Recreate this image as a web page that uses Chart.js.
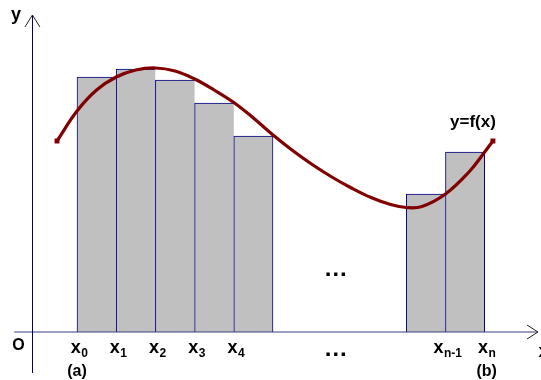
<!DOCTYPE html>
<html>
<head>
<meta charset="utf-8">
<script src="https://cdn.jsdelivr.net/npm/chart.js@4/dist/chart.umd.min.js"></script>
<style>
  html, body { margin: 0; padding: 0; background: #fff; }
  #wrap { width: 541px; height: 380px; position: relative; }
</style>
</head>
<body>
<div id="wrap"><canvas id="riemannChart"></canvas></div>
<script>
// puntos de la particion: letra + subindice, y su valor en el eje x
const tickMain = ['x', 'x', 'x', 'x', 'x', 'x', 'x'];
const tickSub = ['0', '1', '2', '3', '4', 'n-1', 'n'];
const tickValues = [0, 1, 2, 3, 4, 9.4, 10.4];

// rectangulos: borde izquierdo y altura (f en el extremo derecho)
const barLeft = [0, 1, 2, 3, 4, 8.4, 9.4];
const barHeights = [25.5, 26.3, 25.2, 22.9, 19.6, 13.8, 18.0];

// la curva y = f(x)
const curveX = [-0.51, 0, 0.5, 1.0, 1.5, 2.0, 2.5, 3.0, 3.5, 4.0, 4.5, 5.0, 5.5, 6.0, 6.5, 7.0, 7.5, 8.0, 8.4, 8.8, 9.4, 10.0, 10.4, 10.61];
const curveY = [19.1, 22.1, 24.2, 25.5, 26.2, 26.4, 26.1, 25.3, 24.2, 22.95, 21.4, 19.7, 18.15, 16.75, 15.5, 14.4, 13.45, 12.75, 12.45, 12.55, 13.8, 16.0, 18.0, 19.1];

// ejes (en unidades de datos)
const originX = -1.15;
const xAxisFrom = -1.6, xAxisTo = 11.76;
const yAxisFrom = -4.1, yAxisTo = 31.7;
const dotsX = 6.6;

const FONT = '"Liberation Sans", Arial, sans-serif';

const axesPlugin = {
  id: 'axesAndLabels',
  afterDraw(chart) {
    const { ctx } = chart;
    const x = chart.scales.x, y = chart.scales.y;
    const ox = x.getPixelForValue(originX);
    const oy = y.getPixelForValue(0);
    const x1 = x.getPixelForValue(xAxisFrom), x2 = x.getPixelForValue(xAxisTo);
    const y1 = y.getPixelForValue(yAxisFrom), y2 = y.getPixelForValue(yAxisTo);

    ctx.save();
    // lineas de los ejes
    ctx.lineWidth = 1;
    ctx.strokeStyle = '#3c3c7c';
    ctx.beginPath();
    ctx.moveTo(x1, oy); ctx.lineTo(x2, oy);
    ctx.stroke();
    ctx.strokeStyle = '#000060';
    ctx.beginPath();
    ctx.moveTo(Math.round(ox) + 0.5, y1); ctx.lineTo(Math.round(ox) + 0.5, y2);
    ctx.stroke();

    // flechas
    ctx.strokeStyle = '#222';
    ctx.beginPath();
    ctx.moveTo(ox - 7, y2 + 12); ctx.lineTo(ox + 0.5, y2); ctx.lineTo(ox + 8, y2 + 12);
    ctx.moveTo(x2 - 11, oy - 7); ctx.lineTo(x2, oy); ctx.lineTo(x2 - 11, oy + 7);
    ctx.stroke();

    ctx.fillStyle = '#000';
    ctx.textBaseline = 'alphabetic';

    // etiquetas x0 ... xn con subindice
    tickValues.forEach((v, i) => {
      const px = x.getPixelForValue(v);
      ctx.font = 'bold 18px ' + FONT;
      const wMain = ctx.measureText(tickMain[i]).width;
      ctx.font = 'bold 12px ' + FONT;
      const wSub = ctx.measureText(tickSub[i]).width;
      const start = px + 2 - (wMain + wSub) / 2;
      ctx.font = 'bold 18px ' + FONT;
      ctx.textAlign = 'left';
      ctx.fillText(tickMain[i], start, 353);
      ctx.font = 'bold 12px ' + FONT;
      ctx.fillText(tickSub[i], start + wMain + 0.5, 357);
    });

    ctx.textAlign = 'center';
    ctx.font = 'bold 16px ' + FONT;
    ctx.fillText('(a)', x.getPixelForValue(tickValues[0]), 376);
    ctx.fillText('(b)', x.getPixelForValue(tickValues[6]) + 2, 376);
    ctx.fillText('O', ox - 13.5, 350);
    ctx.font = 'bold 18px ' + FONT;
    ctx.fillText('y', ox - 16, 20);
    ctx.textAlign = 'left';
    ctx.fillText('x', x2 + 0.5, 357);

    ctx.textAlign = 'center';
    ctx.font = 'bold 17px ' + FONT;
    ctx.fillText('y=f(x)', x.getPixelForValue(curveX[curveX.length - 1]) - 20, 127);

    // puntos suspensivos
    ctx.font = 'bold 24px ' + FONT;
    ctx.fillText('\u2026', x.getPixelForValue(dotsX), 276);
    ctx.fillText('\u2026', x.getPixelForValue(dotsX), 356);
    ctx.restore();
  }
};

document.addEventListener('DOMContentLoaded', function () {
  const ctx = document.getElementById('riemannChart').getContext('2d');
  const lastOfGroup = [4, 6];

  new Chart(ctx, {
    type: 'bar',
    data: {
      datasets: [
        {
          type: 'line',
          label: 'f(x)',
          data: curveX.map((v, i) => ({ x: v, y: curveY[i] })),
          borderColor: '#800000',
          borderWidth: 3.2,
          tension: 0.4,
          pointStyle: 'rect',
          pointRadius: c => (c.dataIndex === 0 || c.dataIndex === curveX.length - 1) ? 3.5 : 0,
          pointBackgroundColor: '#800000',
          pointBorderColor: '#800000',
          pointBorderWidth: 0,
          order: 0,
          clip: false
        },
        {
          type: 'bar',
          label: 'rectangulos',
          data: barLeft.map((v, i) => ({ x: v + 0.5, y: barHeights[i] })),
          backgroundColor: '#c0c0c0',
          borderColor: '#000080',
          borderWidth: c => ({ top: 1, left: 1, bottom: 0, right: lastOfGroup.includes(c.dataIndex) ? 1 : 0 }),
          borderSkipped: 'start',
          barPercentage: 1,
          categoryPercentage: 1,
          order: 1
        }
      ]
    },
    options: {
      responsive: true,
      maintainAspectRatio: false,
      animation: false,
      events: [],
      layout: { padding: 0, autoPadding: false },
      plugins: { legend: { display: false }, tooltip: { enabled: false } },
      scales: {
        x: {
          type: 'linear',
          display: false,
          offset: false,
          min: -77 / 39.2,
          max: 464 / 39.2,
          afterBuildTicks: s => { s.ticks = tickValues.map(v => ({ value: v })); }
        },
        y: {
          type: 'linear',
          display: false,
          min: -4.8,
          max: 33.2
        }
      }
    },
    plugins: [axesPlugin]
  });
});
</script>
</body>
</html>
